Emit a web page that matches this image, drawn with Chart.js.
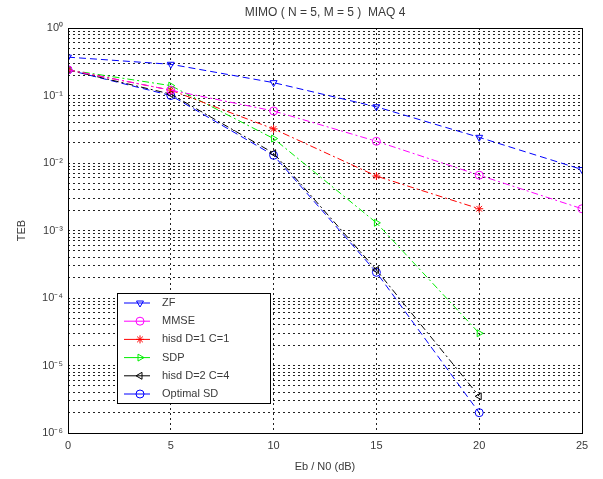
<!DOCTYPE html>
<html>
<head>
<meta charset="utf-8">
<title>MIMO (N = 5, M = 5) MAQ 4</title>
<script src="https://cdn.jsdelivr.net/npm/chart.js"></script>
<style>
  html, body { margin: 0; padding: 0; background: #fff; }
  #wrap { width: 603px; height: 479px; }
</style>
</head>
<body>
<div id="wrap"><canvas id="myChart" width="603" height="479"></canvas></div>
<script>
// Eb/N0 en dB
const snr = [0, 5, 10, 15, 20, 25]

// TEB
const zf = [0.37, 0.29, 0.155, 0.068, 0.024, 0.008]
const mmse = [0.24, 0.12, 0.059, 0.021, 0.0066, 0.0021]
const hisd1 = [0.24, 0.12, 0.032, 0.0064, 0.0021]
const sdp = [0.24, 0.14, 0.023, 0.0013, 0.00003]
const hisd2 = [0.24, 0.105, 0.014, 0.00026, 0.0000035]
const optimalSd = [0.24, 0.10, 0.013, 0.00024, 0.000002]

const labels = ['ZF', 'MMSE', 'hisd D=1 C=1', 'SDP', 'hisd D=2 C=4', 'Optimal SD']
const xTicks = [0, 5, 10, 15, 20, 25]
const decades = [-6, -5, -4, -3, -2, -1, 0]

const FONT = "'Liberation Sans', Arial, Helvetica, sans-serif"
const TEXT = '#3a3a3a'

const sup = { '-': '\u207B', 0: '\u2070', 1: '\u00B9', 2: '\u00B2', 3: '\u00B3', 4: '\u2074', 5: '\u2075', 6: '\u2076', 7: '\u2077', 8: '\u2078', 9: '\u2079' }
const toSup = n => String(n).split('').map(c => sup[c]).join('')

function serie (label, values, color, style, rotation, dash) {
  return {
    label,
    data: values.map((v, i) => ({ x: snr[i], y: v })),
    borderColor: color,
    backgroundColor: 'rgba(0,0,0,0)',
    pointBorderColor: color,
    pointBackgroundColor: style === 'star' ? color : 'rgba(0,0,0,0)',
    pointStyle: style,
    pointRotation: rotation,
    pointRadius: 4,
    pointBorderWidth: 1,
    borderWidth: 1,
    borderDash: dash,
    tension: 0,
    fill: false
  }
}

const datasets = [
  serie(labels[0], zf, '#0000ff', 'triangle', 180, [7, 4]),
  serie(labels[1], mmse, '#ff00ff', 'circle', 0, [7, 3, 2, 3]),
  serie(labels[2], hisd1, '#ff0000', 'star', 0, [7, 3, 2, 3]),
  serie(labels[3], sdp, '#00ee00', 'triangle', 90, [7, 3, 2, 3]),
  serie(labels[4], hisd2, '#000000', 'triangle', 270, [7, 3, 2, 3]),
  serie(labels[5], optimalSd, '#0000ff', 'circle', 0, [7, 4])
]

// cadre, titres et légende façon MATLAB
const matlabDecor = {
  id: 'matlabDecor',
  afterDatasetsDraw (chart) {
    const { ctx, chartArea: a } = chart
    ctx.save()
    ctx.setLineDash([])
    ctx.strokeStyle = '#000'
    ctx.lineWidth = 1
    ctx.strokeRect(Math.round(a.left) + 0.5, Math.round(a.top) + 0.5, Math.round(a.right - a.left), Math.round(a.bottom - a.top))

    const cx = (a.left + a.right) / 2
    ctx.fillStyle = TEXT
    ctx.textAlign = 'center'
    ctx.textBaseline = 'middle'
    ctx.font = '12px ' + FONT
    ctx.fillText('MIMO ( N = 5, M = 5 )  MAQ 4', cx, 13)
    ctx.font = '11px ' + FONT
    ctx.fillText('Eb / N0 (dB)', cx, 467)
    ctx.save()
    ctx.translate(22, (a.top + a.bottom) / 2)
    ctx.rotate(-Math.PI / 2)
    ctx.fillText('TEB', 0, 0)
    ctx.restore()

    // légende
    const box = { x: 117, y: 293, w: 153, h: 110 }
    ctx.fillStyle = '#fff'
    ctx.fillRect(box.x, box.y, box.w, box.h)
    ctx.strokeStyle = '#000'
    ctx.strokeRect(box.x + 0.5, box.y + 0.5, box.w, box.h)
    chart.data.datasets.forEach((ds, i) => {
      const y = box.y + 10 + i * 18.2
      ctx.strokeStyle = ds.borderColor
      ctx.setLineDash([])
      ctx.beginPath()
      ctx.moveTo(124, y)
      ctx.lineTo(150, y)
      ctx.stroke()
      ctx.fillStyle = ds.pointBackgroundColor
      const opts = { pointStyle: ds.pointStyle, rotation: ds.pointRotation, radius: 4, borderWidth: 1 }
      if (Chart.helpers && Chart.helpers.drawPoint) {
        Chart.helpers.drawPoint(ctx, opts, 140, y)
      } else {
        ctx.beginPath(); ctx.arc(140, y, 4, 0, Math.PI * 2); ctx.stroke()
      }
      ctx.fillStyle = TEXT
      ctx.textAlign = 'left'
      ctx.font = '11px ' + FONT
      ctx.fillText(ds.label, 162, y)
    })
    ctx.restore()
  }
}

const ctx = document.getElementById('myChart').getContext('2d')
const myChart = new Chart(ctx, {
  type: 'line',
  data: { datasets },
  options: {
    responsive: false,
    animation: false,
    layout: { padding: { left: 0, right: 21, top: 28, bottom: 0 } },
    plugins: { legend: { display: false }, title: { display: false }, tooltip: { enabled: false } },
    scales: {
      x: {
        type: 'linear',
        min: 0,
        max: 25,
        afterBuildTicks: scale => { scale.ticks = xTicks.map(v => ({ value: v })) },
        afterFit: scale => { scale.height = 46 },
        grid: { color: '#222', lineWidth: 1, drawTicks: false },
        border: { display: false, dash: [2, 3] },
        ticks: { color: TEXT, padding: 6, font: { family: FONT, size: 11 } }
      },
      y: {
        type: 'logarithmic',
        min: 1e-6,
        max: 1,
        afterBuildTicks: scale => {
          const t = []
          decades.forEach(e => {
            for (let k = 1; k <= 9; k++) {
              const v = k * Math.pow(10, e)
              if (v <= 1.0000001) t.push({ value: v })
            }
          })
          scale.ticks = t
        },
        afterFit: scale => { scale.width = 68 },
        grid: { color: '#222', lineWidth: 1, drawTicks: false },
        border: { display: false, dash: [2, 3] },
        ticks: {
          autoSkip: false,
          color: TEXT,
          padding: 5,
          font: { family: FONT, size: 11 },
          callback: v => {
            const e = Math.round(Math.log10(v))
            return Math.abs(v / Math.pow(10, e) - 1) < 1e-6 ? '10' + toSup(e) : ''
          }
        }
      }
    }
  },
  plugins: [matlabDecor]
})
</script>
</body>
</html>
